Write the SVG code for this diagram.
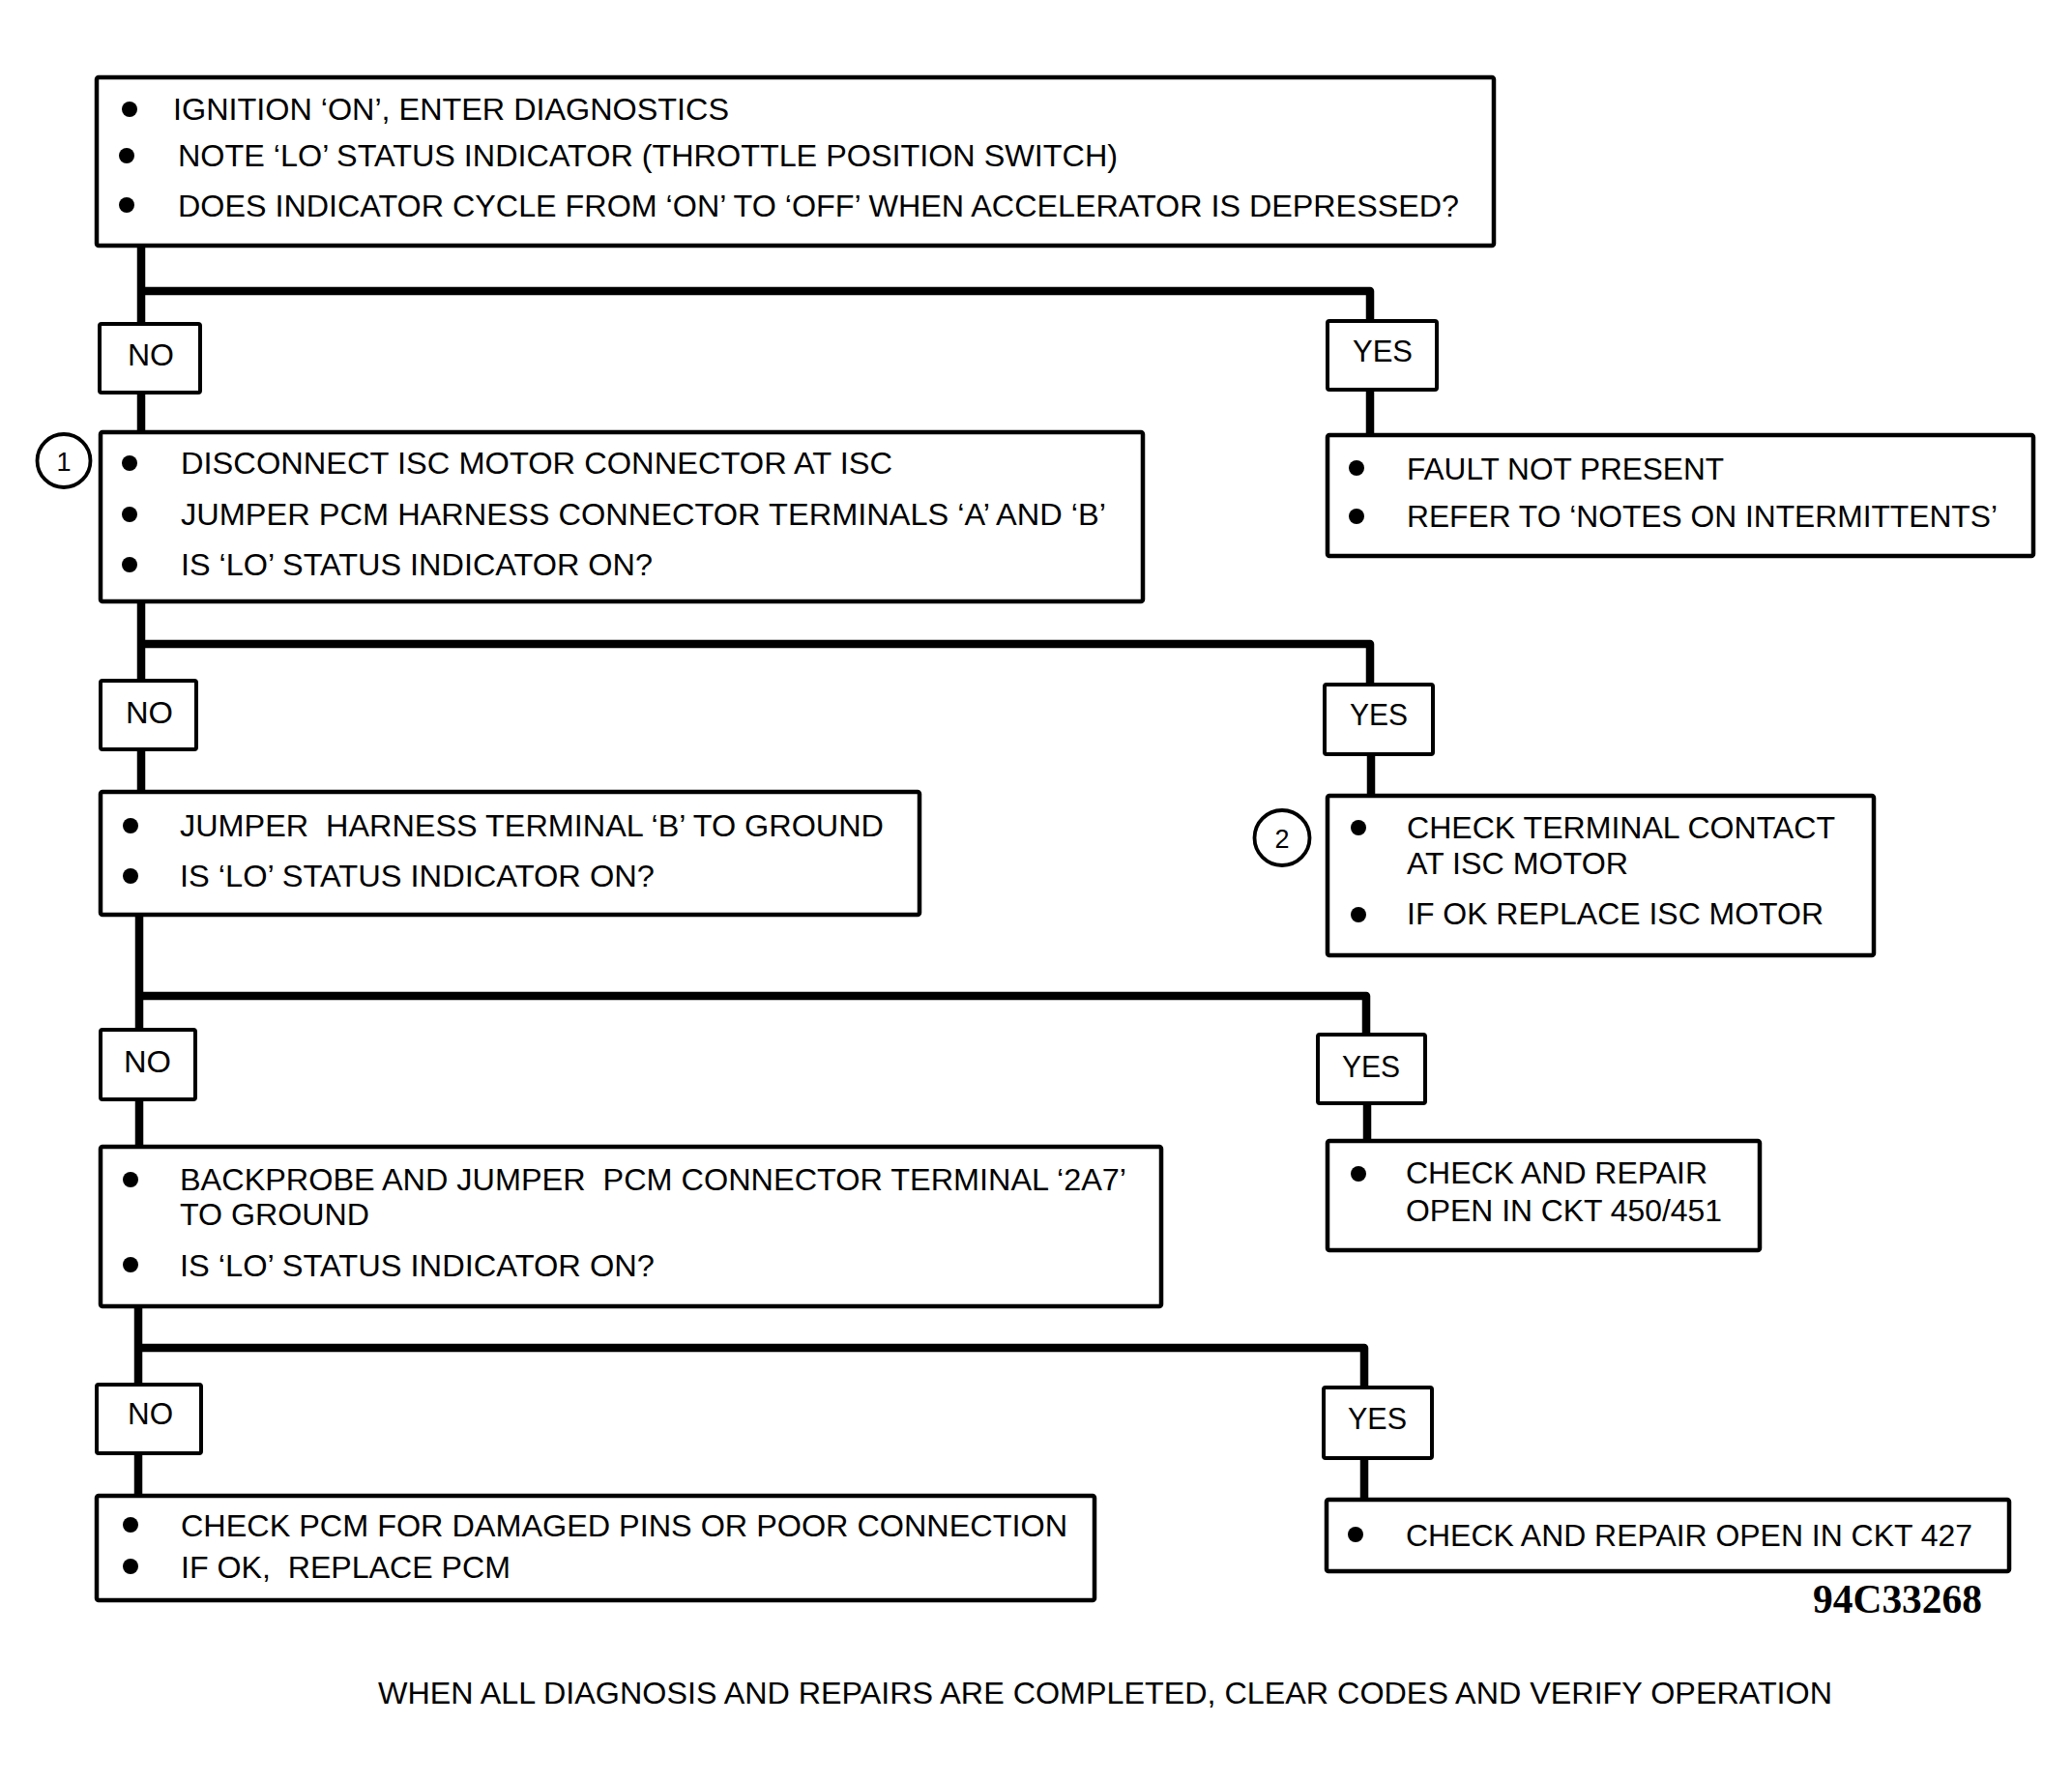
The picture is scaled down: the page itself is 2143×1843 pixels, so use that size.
<svg xmlns="http://www.w3.org/2000/svg" width="2143" height="1843" viewBox="0 0 2143 1843">
<style>
.box{fill:#fff;stroke:#000;stroke-width:4.5}
.tag{fill:#fff;stroke:#000;stroke-width:4}
.conn{fill:none;stroke:#000;stroke-width:8.5;stroke-linejoin:round;stroke-linecap:butt}
.t{font-family:"Liberation Sans",Arial,Helvetica,sans-serif;font-size:32px;fill:#000;white-space:pre}
.num{font-family:"Liberation Sans",Arial,sans-serif;font-size:27px;fill:#000;text-anchor:middle}
.ring{fill:#fff;stroke:#000;stroke-width:3.8}
.code{font-family:"Liberation Serif","Times New Roman",serif;font-weight:bold;font-size:42px;fill:#000}
</style>
<defs>
<circle id="dot" r="8" fill="#000"/>
</defs>
<rect width="2143" height="1843" fill="#fff"/>
<g id="connectors">
<path class="conn" d="M146,254 V335"/>
<path class="conn" d="M146,406 V447"/>
<path class="conn" d="M146,301 H1417 V332"/>
<path class="conn" d="M1417,403 V450"/>
<path class="conn" d="M146,622 V704"/>
<path class="conn" d="M146,666 H1417 V708"/>
<path class="conn" d="M1418,780 V823"/>
<path class="conn" d="M146,775 V819"/>
<path class="conn" d="M144,946 V1065"/>
<path class="conn" d="M144,1030 H1413 V1070"/>
<path class="conn" d="M1414,1141 V1180"/>
<path class="conn" d="M144,1137 V1186"/>
<path class="conn" d="M143,1351 V1432"/>
<path class="conn" d="M143,1394 H1411 V1435"/>
<path class="conn" d="M1411,1508 V1551"/>
<path class="conn" d="M143,1503 V1547"/>
</g>
<g id="start">
<rect class="box" x="100" y="80" width="1445" height="174" rx="2"/>
<use href="#dot" x="134" y="113"/>
<use href="#dot" x="131" y="161"/>
<use href="#dot" x="131" y="212"/>
<text class="t" x="179" y="124" textLength="575" lengthAdjust="spacingAndGlyphs">IGNITION ‘ON’, ENTER DIAGNOSTICS</text>
<text class="t" x="184" y="172" textLength="972" lengthAdjust="spacingAndGlyphs">NOTE ‘LO’ STATUS INDICATOR (THROTTLE POSITION SWITCH)</text>
<text class="t" x="184" y="224" textLength="1325" lengthAdjust="spacingAndGlyphs">DOES INDICATOR CYCLE FROM ‘ON’ TO ‘OFF’ WHEN ACCELERATOR IS DEPRESSED?</text>
</g>
<g id="no1">
<rect class="tag" x="103" y="335" width="104" height="71" rx="2"/>
<text class="t" x="132" y="378" textLength="48" lengthAdjust="spacingAndGlyphs">NO</text>
</g>
<g id="yes1">
<rect class="tag" x="1373" y="332" width="113" height="71" rx="2"/>
<text class="t" x="1399" y="374" textLength="62" lengthAdjust="spacingAndGlyphs">YES</text>
</g>
<g id="step1">
<rect class="box" x="104" y="447" width="1078" height="175" rx="2"/>
<circle class="ring" cx="66" cy="476.5" r="27.5"/>
<text class="num" x="66" y="487">1</text>
<use href="#dot" x="134" y="479"/>
<use href="#dot" x="134" y="532"/>
<use href="#dot" x="134" y="584"/>
<text class="t" x="187" y="490" textLength="736" lengthAdjust="spacingAndGlyphs">DISCONNECT ISC MOTOR CONNECTOR AT ISC</text>
<text class="t" x="187" y="543" textLength="957" lengthAdjust="spacingAndGlyphs">JUMPER PCM HARNESS CONNECTOR TERMINALS ‘A’ AND ‘B’</text>
<text class="t" x="187" y="595" textLength="488" lengthAdjust="spacingAndGlyphs">IS ‘LO’ STATUS INDICATOR ON?</text>
</g>
<g id="fault">
<rect class="box" x="1373" y="450" width="730" height="125" rx="2"/>
<use href="#dot" x="1403" y="484"/>
<use href="#dot" x="1403" y="534"/>
<text class="t" x="1455" y="496" textLength="328" lengthAdjust="spacingAndGlyphs">FAULT NOT PRESENT</text>
<text class="t" x="1455" y="545" textLength="611" lengthAdjust="spacingAndGlyphs">REFER TO ‘NOTES ON INTERMITTENTS’</text>
</g>
<g id="no2">
<rect class="tag" x="104" y="704" width="99" height="71" rx="2"/>
<text class="t" x="130" y="748" textLength="49" lengthAdjust="spacingAndGlyphs">NO</text>
</g>
<g id="yes2">
<rect class="tag" x="1370" y="708" width="112" height="72" rx="2"/>
<text class="t" x="1396" y="750" textLength="60" lengthAdjust="spacingAndGlyphs">YES</text>
</g>
<g id="step2">
<rect class="box" x="104" y="819" width="847" height="127" rx="2"/>
<use href="#dot" x="135" y="854"/>
<use href="#dot" x="135" y="906"/>
<text class="t" x="186" y="865" textLength="728" lengthAdjust="spacingAndGlyphs">JUMPER  HARNESS TERMINAL ‘B’ TO GROUND</text>
<text class="t" x="186" y="917" textLength="491" lengthAdjust="spacingAndGlyphs">IS ‘LO’ STATUS INDICATOR ON?</text>
</g>
<g id="isc">
<rect class="box" x="1373" y="823" width="565" height="165" rx="2"/>
<circle class="ring" cx="1326" cy="866.5" r="28.5"/>
<text class="num" x="1326" y="877">2</text>
<use href="#dot" x="1405" y="856"/>
<use href="#dot" x="1405" y="946"/>
<text class="t" x="1455" y="867" textLength="443" lengthAdjust="spacingAndGlyphs">CHECK TERMINAL CONTACT</text>
<text class="t" x="1455" y="904" textLength="229" lengthAdjust="spacingAndGlyphs">AT ISC MOTOR</text>
<text class="t" x="1455" y="956" textLength="431" lengthAdjust="spacingAndGlyphs">IF OK REPLACE ISC MOTOR</text>
</g>
<g id="no3">
<rect class="tag" x="104" y="1065" width="98" height="72" rx="2"/>
<text class="t" x="128" y="1109" textLength="49" lengthAdjust="spacingAndGlyphs">NO</text>
</g>
<g id="yes3">
<rect class="tag" x="1363" y="1070" width="111" height="71" rx="2"/>
<text class="t" x="1388" y="1114" textLength="60" lengthAdjust="spacingAndGlyphs">YES</text>
</g>
<g id="step3">
<rect class="box" x="104" y="1186" width="1097" height="165" rx="2"/>
<use href="#dot" x="135" y="1220"/>
<use href="#dot" x="135" y="1308"/>
<text class="t" x="186" y="1231" textLength="979" lengthAdjust="spacingAndGlyphs">BACKPROBE AND JUMPER  PCM CONNECTOR TERMINAL ‘2A7’</text>
<text class="t" x="186" y="1267" textLength="196" lengthAdjust="spacingAndGlyphs">TO GROUND</text>
<text class="t" x="186" y="1320" textLength="491" lengthAdjust="spacingAndGlyphs">IS ‘LO’ STATUS INDICATOR ON?</text>
</g>
<g id="ckt450">
<rect class="box" x="1373" y="1180" width="447" height="113" rx="2"/>
<use href="#dot" x="1405" y="1214"/>
<text class="t" x="1454" y="1224" textLength="312" lengthAdjust="spacingAndGlyphs">CHECK AND REPAIR</text>
<text class="t" x="1454" y="1263" textLength="327" lengthAdjust="spacingAndGlyphs">OPEN IN CKT 450/451</text>
</g>
<g id="no4">
<rect class="tag" x="100" y="1432" width="108" height="71" rx="2"/>
<text class="t" x="132" y="1473" textLength="47" lengthAdjust="spacingAndGlyphs">NO</text>
</g>
<g id="yes4">
<rect class="tag" x="1369" y="1435" width="112" height="73" rx="2"/>
<text class="t" x="1394" y="1478" textLength="61" lengthAdjust="spacingAndGlyphs">YES</text>
</g>
<g id="pcm">
<rect class="box" x="100" y="1547" width="1032" height="108" rx="2"/>
<use href="#dot" x="135" y="1577"/>
<use href="#dot" x="135" y="1620"/>
<text class="t" x="187" y="1589" textLength="917" lengthAdjust="spacingAndGlyphs">CHECK PCM FOR DAMAGED PINS OR POOR CONNECTION</text>
<text class="t" x="187" y="1632" textLength="341" lengthAdjust="spacingAndGlyphs">IF OK,  REPLACE PCM</text>
</g>
<g id="ckt427">
<rect class="box" x="1372" y="1551" width="706" height="74" rx="2"/>
<use href="#dot" x="1402" y="1587"/>
<text class="t" x="1454" y="1599" textLength="586" lengthAdjust="spacingAndGlyphs">CHECK AND REPAIR OPEN IN CKT 427</text>
</g>
<text class="code" x="1875" y="1668" textLength="175" lengthAdjust="spacingAndGlyphs">94C33268</text>
<text class="t" x="391" y="1762" textLength="1504" lengthAdjust="spacingAndGlyphs">WHEN ALL DIAGNOSIS AND REPAIRS ARE COMPLETED, CLEAR CODES AND VERIFY OPERATION</text>
</svg>
